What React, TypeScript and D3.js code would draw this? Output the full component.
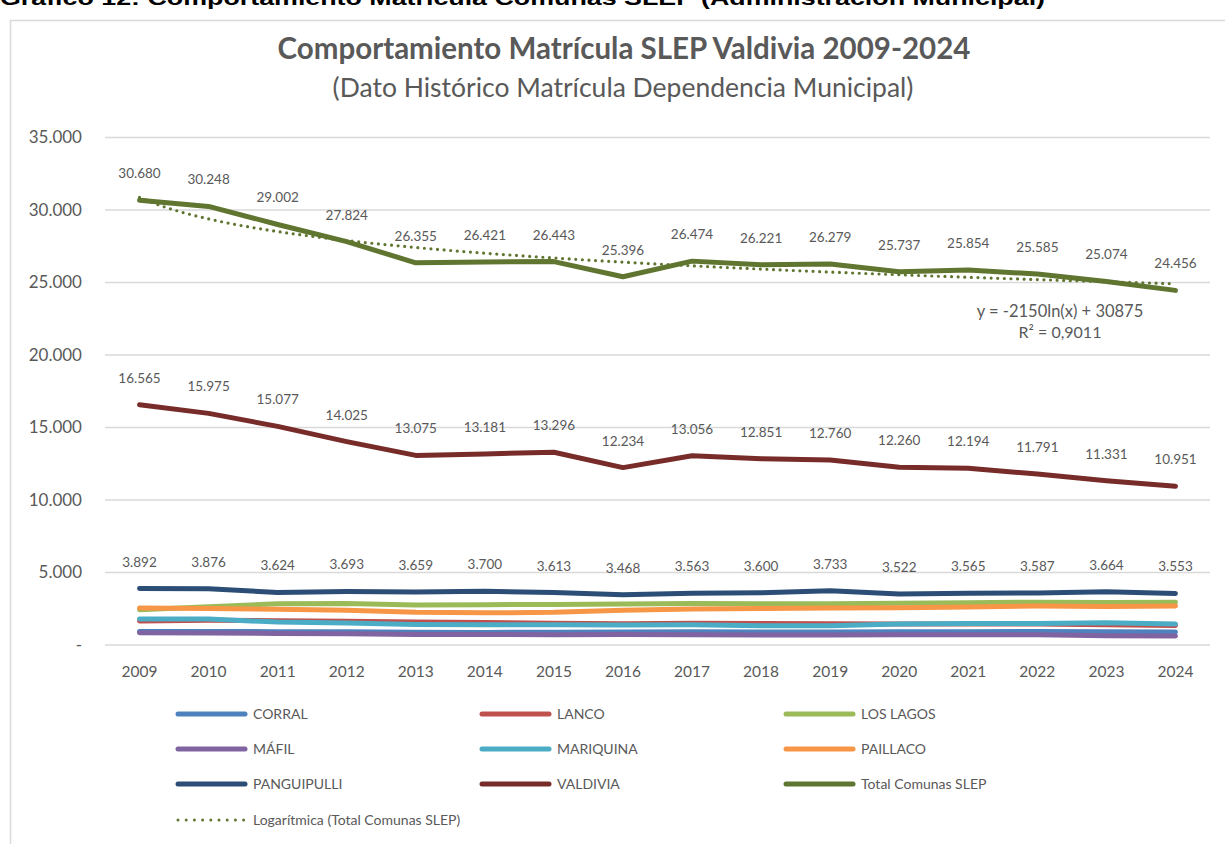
import * as React from 'react';
import * as d3 from 'd3';

const years = [2009, 2010, 2011, 2012, 2013, 2014, 2015, 2016, 2017, 2018, 2019, 2020, 2021, 2022, 2023, 2024];

const corral = [930, 930, 920, 910, 880, 870, 880, 900, 910, 900, 900, 910, 920, 930, 920, 900];
const lanco = [1660, 1700, 1680, 1640, 1580, 1550, 1500, 1470, 1500, 1490, 1460, 1440, 1450, 1450, 1400, 1340];
const losLagos = [2430, 2630, 2850, 2860, 2760, 2780, 2800, 2820, 2860, 2850, 2850, 2880, 2920, 2950, 2930, 2945];
const mafil = [850, 830, 800, 780, 730, 720, 710, 720, 710, 690, 690, 700, 700, 700, 640, 620];
const mariquina = [1800, 1790, 1580, 1520, 1420, 1400, 1390, 1380, 1390, 1330, 1330, 1450, 1480, 1490, 1540, 1450];
const paillaco = [2553, 2517, 2471, 2396, 2251, 2220, 2254, 2404, 2485, 2510, 2556, 2575, 2625, 2687, 2649, 2697];
const panguipulli = [3892, 3876, 3624, 3693, 3659, 3700, 3613, 3468, 3563, 3600, 3733, 3522, 3565, 3587, 3664, 3553];
const valdivia = [16565, 15975, 15077, 14025, 13075, 13181, 13296, 12234, 13056, 12851, 12760, 12260, 12194, 11791, 11331, 10951];
const total = [30680, 30248, 29002, 27824, 26355, 26421, 26443, 25396, 26474, 26221, 26279, 25737, 25854, 25585, 25074, 24456];

const yTicks = [0, 5000, 10000, 15000, 20000, 25000, 30000, 35000];

const series = [
  { name: 'CORRAL', values: corral, color: '#4F81BD', labels: false },
  { name: 'LANCO', values: lanco, color: '#C0504D', labels: false },
  { name: 'LOS LAGOS', values: losLagos, color: '#9BBB59', labels: false },
  { name: 'MÁFIL', values: mafil, color: '#8064A2', labels: false },
  { name: 'MARIQUINA', values: mariquina, color: '#4BACC6', labels: false },
  { name: 'PAILLACO', values: paillaco, color: '#F79646', labels: false },
  { name: 'PANGUIPULLI', values: panguipulli, color: '#2C4D75', labels: true },
  { name: 'VALDIVIA', values: valdivia, color: '#772C2A', labels: true },
  { name: 'Total Comunas SLEP', values: total, color: '#5F7530', labels: true },
];

const trendName = 'Logarítmica (Total Comunas SLEP)';
const textGray = '#595959';
const gridGray = '#D9D9D9';
const font = 'Lato, "Open Sans", sans-serif';

const locale = d3.formatLocale({ decimal: ',', thousands: '.', grouping: [3], currency: ['$', ''] });
const fmt = locale.format(',d');

// logarithmic trendline, same fit Excel does: y = a + b ln(x), x = 1..n
function logRegression(ys: number[]) {
  const xs = ys.map((_, i) => Math.log(i + 1));
  const mx = d3.mean(xs) as number;
  const my = d3.mean(ys) as number;
  let sxy = 0;
  let sxx = 0;
  xs.forEach((x, i) => {
    sxy += (x - mx) * (ys[i] - my);
    sxx += (x - mx) * (x - mx);
  });
  const b = sxy / sxx;
  const a = my - b * mx;
  let ssRes = 0;
  let ssTot = 0;
  ys.forEach((y, i) => {
    const f = a + b * xs[i];
    ssRes += (y - f) * (y - f);
    ssTot += (y - my) * (y - my);
  });
  return { a, b, r2: 1 - ssRes / ssTot };
}

export default function App() {
  const width = 1225;
  const height = 844;
  const plot = { left: 105, right: 1210, top: 137.5, bottom: 645 };

  const x = d3.scalePoint<number>().domain(years).range([plot.left, plot.right]).padding(0.5);
  const y = d3.scaleLinear().domain([0, 35000]).range([plot.bottom, plot.top]);

  const line = d3.line<number>()
    .x((_, i) => x(years[i]) as number)
    .y((d) => y(d));

  const { a, b, r2 } = logRegression(total);
  const xi = d3.scaleLinear().domain([1, years.length]).range([x(years[0]) as number, x(years[years.length - 1]) as number]);
  const trendPts = d3.range(1, years.length + 0.001, 0.1);
  const trendLine = d3.line<number>()
    .x((t) => xi(t))
    .y((t) => y(a + b * Math.log(t)));

  const legendCols = [176, 480, 784];
  const legendRows = [714, 749, 784, 820];

  return (
    <svg width={width} height={height} style={{ position: 'absolute', left: 0, top: 0, background: '#fff' }} fontFamily={font}>
      <rect x={0} y={0} width={width} height={height} fill="#fff" />
      <text x={0} y={5} fontFamily='"Liberation Sans", Arial, sans-serif' fontWeight="bold" fontSize={21} fill="#000"
        textLength={1045} lengthAdjust="spacingAndGlyphs">
        Gráfico 12: Comportamiento Matrícula Comunas SLEP (Administración Municipal)
      </text>
      <path d={`M10.5,${height} V20.5 H${width}`} fill="none" stroke={gridGray} strokeWidth={1.5} />

      <text x={624} y={59} textAnchor="middle" fontSize={29.5} fontWeight="bold" fill={textGray}>
        Comportamiento Matrícula SLEP Valdivia 2009-2024
      </text>
      <text x={623} y={97} textAnchor="middle" fontSize={26.5} fill={textGray}>
        (Dato Histórico Matrícula Dependencia Municipal)
      </text>

      {yTicks.map((t) => (
        <g key={t}>
          <line x1={plot.left} x2={plot.right} y1={y(t)} y2={y(t)} stroke={gridGray} strokeWidth={1.5} />
          <text x={82} y={y(t)} dy="0.35em" textAnchor="end" fontSize={17} fill={textGray}>
            {t === 0 ? '-' : fmt(t)}
          </text>
        </g>
      ))}

      {years.map((yr) => (
        <text key={yr} x={x(yr)} y={677} textAnchor="middle" fontSize={15.5} fill={textGray}>{yr}</text>
      ))}

      {series.map((s) => (
        <path key={s.name} d={line(s.values) as string} fill="none" stroke={s.color} strokeWidth={5}
          strokeLinecap="round" strokeLinejoin="round" />
      ))}

      <path d={trendLine(trendPts) as string} fill="none" stroke="#5F7530" strokeWidth={3.2}
        strokeDasharray="0 6.6" strokeLinecap="round" />

      {series.filter((s) => s.labels).map((s) => (
        <g key={s.name + '-lbl'}>
          {s.values.map((v, i) => (
            <text key={i} x={x(years[i])} y={y(v) - 22} textAnchor="middle" fontSize={13.5} fill={textGray}>
              {fmt(v)}
            </text>
          ))}
        </g>
      ))}

      <text x={1060} y={317} textAnchor="middle" fontSize={16.5} fill={textGray}>
        {`y = ${Math.round(b)}ln(x) + ${Math.round(a)}`}
      </text>
      <text x={1060} y={338} textAnchor="middle" fontSize={16} fill={textGray}>
        {`R² = ${r2.toFixed(4).replace('.', ',')}`}
      </text>

      {series.map((s, i) => {
        const lx = legendCols[i % 3];
        const ly = legendRows[Math.floor(i / 3)];
        return (
          <g key={s.name + '-leg'}>
            <line x1={lx + 2} x2={lx + 69} y1={ly} y2={ly} stroke={s.color} strokeWidth={5} strokeLinecap="round" />
            <text x={lx + 77} y={ly} dy="0.35em" fontSize={14} fill={textGray}>{s.name}</text>
          </g>
        );
      })}
      <g>
        <line x1={legendCols[0] + 2} x2={legendCols[0] + 68} y1={legendRows[3]} y2={legendRows[3]} stroke="#5F7530"
          strokeWidth={3} strokeDasharray="0 8.2" strokeLinecap="round" />
        <text x={legendCols[0] + 77} y={legendRows[3]} dy="0.35em" fontSize={14} fill={textGray}>{trendName}</text>
      </g>
    </svg>
  );
}
